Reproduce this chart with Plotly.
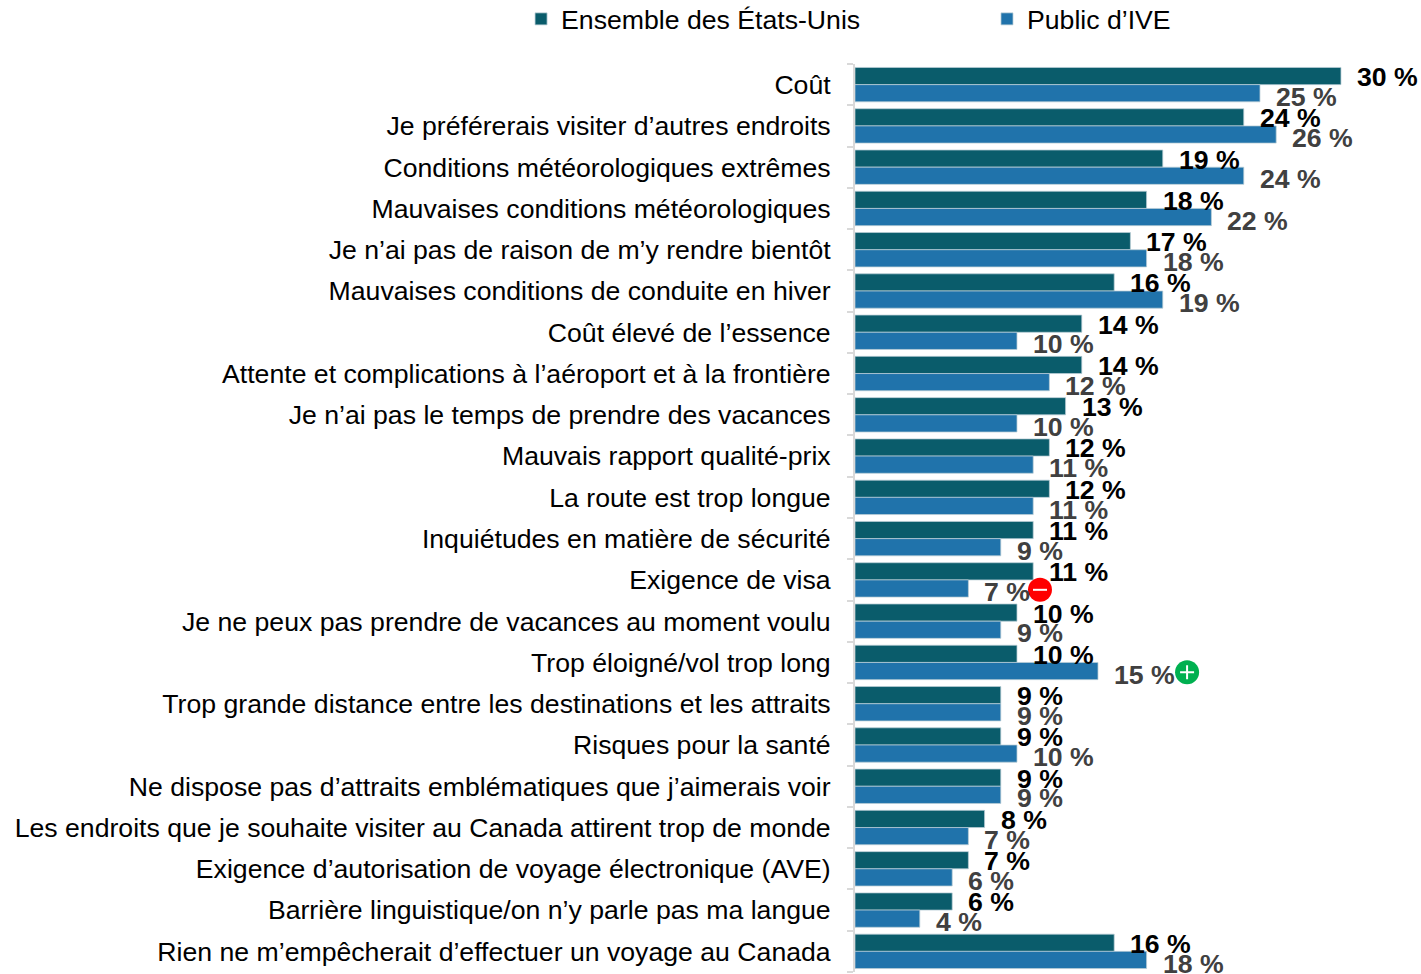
import plotly.graph_objects as go

categories = [
    "Coût", "Je préférerais visiter d’autres endroits", "Conditions météorologiques extrêmes",
    "Mauvaises conditions météorologiques", "Je n’ai pas de raison de m’y rendre bientôt",
    "Mauvaises conditions de conduite en hiver", "Coût élevé de l’essence",
    "Attente et complications à l’aéroport et à la frontière", "Je n’ai pas le temps de prendre des vacances",
    "Mauvais rapport qualité-prix", "La route est trop longue", "Inquiétudes en matière de sécurité",
    "Exigence de visa", "Je ne peux pas prendre de vacances au moment voulu", "Trop éloigné/vol trop long",
    "Trop grande distance entre les destinations et les attraits", "Risques pour la santé",
    "Ne dispose pas d’attraits emblématiques que j’aimerais voir",
    "Les endroits que je souhaite visiter au Canada attirent trop de monde",
    "Exigence d’autorisation de voyage électronique (AVE)", "Barrière linguistique/on n’y parle pas ma langue",
    "Rien ne m’empêcherait d’effectuer un voyage au Canada",
]
us_values = [30, 24, 19, 18, 17, 16, 14, 14, 13, 12, 12, 11, 11, 10, 10, 9, 9, 9, 8, 7, 6, 16]
ive_values = [25, 26, 24, 22, 18, 19, 10, 12, 10, 11, 11, 9, 7, 9, 15, 9, 10, 9, 7, 6, 4, 18]
series_names = ["Ensemble des États-Unis", "Public d’IVE"]
minus_badge = ("Exigence de visa", 11.42)
plus_badge = ("Trop éloigné/vol trop long", 20.5)

FONT = "Liberation Sans, Arial, sans-serif"
TEAL, BLUE = "#0A5C6B", "#2073AB"
SIZE = 26.65
pos = list(range(len(categories)))

fig = go.Figure()
fig.add_bar(y=pos, x=us_values, orientation="h", name=series_names[0], marker=dict(color=TEAL, line=dict(color="#B9CDD6", width=0.75)), legend="legend")
fig.add_bar(y=pos, x=ive_values, orientation="h", name=series_names[1], marker=dict(color=BLUE, line=dict(color="#B9CDD6", width=0.75)), legend="legend2")

for badge, colour, symbol in ((minus_badge, "#FF0000", "line-ew"), (plus_badge, "#00B050", "cross-thin")):
    yb = categories.index(badge[0]) + 0.24
    fig.add_scatter(x=[badge[1]], y=[yb], mode="markers", showlegend=False, marker=dict(size=24, color=colour, symbol="circle"))
    fig.add_scatter(x=[badge[1]], y=[yb], mode="markers", showlegend=False, marker=dict(size=10, symbol=symbol, color="white", line=dict(color="white", width=2)))

ann = []
for i in pos:
    ann.append(dict(x=ive_values[i], y=i + 0.21, xref="x", yref="y", text=f"<b>{ive_values[i]} %</b>", showarrow=False, xanchor="left", yanchor="middle", xshift=14, yshift=-3.5, font=dict(family=FONT, size=SIZE, color="#404040")))
for i in pos:
    ann.append(dict(x=us_values[i], y=i - 0.21, xref="x", yref="y", text=f"<b>{us_values[i]} %</b>", showarrow=False, xanchor="left", yanchor="middle", xshift=14, yshift=-1, font=dict(family=FONT, size=SIZE, color="#000000")))

fig.update_layout(
    width=1421, height=974, autosize=False,
    margin=dict(l=855, r=0, t=64, b=2, autoexpand=False), paper_bgcolor="white", plot_bgcolor="white",
    barmode="group", bargap=0.167, bargroupgap=0,
    font=dict(family=FONT, size=SIZE, color="#000000"),
    annotations=ann,
    legend=dict(x=-0.590, xanchor="left", y=1.0495, yanchor="middle", orientation="h", font=dict(size=SIZE), bgcolor="rgba(0,0,0,0)", itemclick=False),
    legend2=dict(x=0.2332, xanchor="left", y=1.0495, yanchor="middle", orientation="h", font=dict(size=SIZE), bgcolor="rgba(0,0,0,0)", itemclick=False),
    xaxis=dict(range=[0, 34.94], visible=False, fixedrange=True),
    yaxis=dict(
        range=[len(categories) - 0.5, -0.5], tickmode="array", tickvals=pos, ticktext=categories,
        ticks="", ticklabelstandoff=17, showgrid=False, zeroline=False, showline=True, linecolor="#D9D9D9", linewidth=2,
        tickfont=dict(family=FONT, size=SIZE, color="#000000"), fixedrange=True,
        minor=dict(tickmode="array", tickvals=[i - 0.5 for i in range(len(categories) + 1)], ticks="outside", ticklen=6, tickcolor="#D9D9D9", tickwidth=2, showgrid=False),
    ),
)
fig.write_html("out.html", config={"displayModeBar": False}, post_script="document.body.style.margin='0';")
